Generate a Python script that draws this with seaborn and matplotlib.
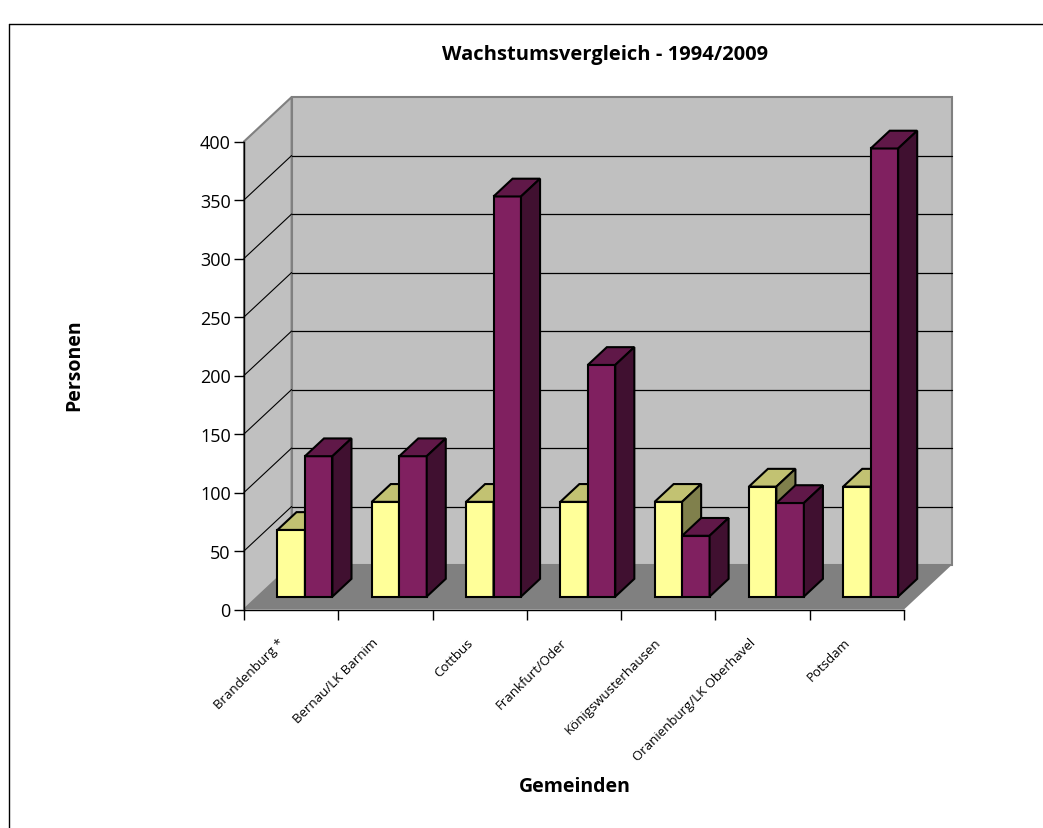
import numpy as np
import pandas as pd
import matplotlib as mpl
mpl.use('Agg')
import matplotlib.pyplot as plt
import seaborn as sns
from matplotlib.patches import Polygon
from matplotlib.lines import Line2D
from matplotlib.transforms import ScaledTranslation

# data
gemeinden = ['Brandenburg *', 'Bernau/LK Barnim', 'Cottbus', 'Frankfurt/Oder',
             'Königswusterhausen', 'Oranienburg/LK Oberhavel', 'Potsdam']
werte_1994 = [57, 81, 81, 81, 81, 94, 94]
werte_2009 = [120, 120, 342, 198, 52, 80, 383]
y_ticks = [0, 50, 100, 150, 200, 250, 300, 350, 400]

df = pd.DataFrame({
    'Gemeinde': gemeinden * 2,
    'Jahr': ['1994'] * len(gemeinden) + ['2009'] * len(gemeinden),
    'Personen': werte_1994 + werte_2009,
})

sns.set_style('white')
plt.rcParams['font.family'] = ['Open Sans', 'DejaVu Sans']
plt.rcParams['text.color'] = 'black'
plt.rcParams['axes.labelcolor'] = 'black'
plt.rcParams['xtick.color'] = 'black'
plt.rcParams['ytick.color'] = 'black'

front = {'1994': '#FFFF99', '2009': '#802060'}
top = {'1994': '#C2C272', '2009': '#601848'}
side = {'1994': '#80804C', '2009': '#401030'}

W, H = 1043, 829
fig = plt.figure(figsize=(W / 100, H / 100), dpi=100)
ax = fig.add_axes([244 / W, 1 - 610.5 / H, 660 / W, 468 / H])
ax.patch.set_visible(False)

# 3d depth in data units
DX, DY = 0.505, 38.0
Z0, DZ = 0.29, 0.40
n = len(gemeinden)
x0, x1 = -0.5, n - 0.5
ymax = 400

# walls and floor
wall_kw = dict(facecolor='#C0C0C0', edgecolor='#808080', lw=1.5, clip_on=False, zorder=0.5)
ax.add_patch(Polygon([(x0 + DX, DY), (x1 + DX, DY), (x1 + DX, ymax + DY), (x0 + DX, ymax + DY)], closed=True, **wall_kw))
ax.add_patch(Polygon([(x0, 0), (x0 + DX, DY), (x0 + DX, ymax + DY), (x0, ymax)], closed=True, **wall_kw))
ax.add_patch(Polygon([(x0, 0), (x1, 0), (x1 + DX, DY), (x0 + DX, DY)], closed=True,
                     facecolor='#808080', edgecolor='none', clip_on=False, zorder=0.6))
for v in y_ticks[1:-1]:
    ax.plot([x0 + DX, x1 + DX], [v + DY, v + DY], color='black', lw=0.9, zorder=0.8, clip_on=False)
    ax.plot([x0, x0 + DX], [v, v + DY], color='black', lw=0.8, zorder=0.8, clip_on=False)

sns.barplot(data=df, x='Gemeinde', y='Personen', hue='Jahr', hue_order=['1994', '2009'],
            palette=front, saturation=1, width=0.583, errorbar=None, edgecolor='black',
            linewidth=1.5, legend=False, ax=ax)

ox, oy = Z0 * DX, Z0 * DY
bx, by = DZ * DX, DZ * DY
for k, (jahr, cont) in enumerate(zip(['1994', '2009'], ax.containers)):
    for p in cont:
        xs = p.get_x() + ox
        w = p.get_width()
        h = p.get_height()
        p.set_x(xs)
        p.set_y(oy)
        p.set_zorder(3 + k)
        p.set_joinstyle('miter')
        yt = oy + h
        ax.add_patch(Polygon([(xs, yt), (xs + w, yt), (xs + w + bx, yt + by), (xs + bx, yt + by)],
                             closed=True, facecolor=top[jahr], edgecolor='black', lw=1.5,
                             joinstyle='miter', clip_on=False, zorder=3 + k))
        ax.add_patch(Polygon([(xs + w, oy), (xs + w + bx, oy + by), (xs + w + bx, yt + by), (xs + w, yt)],
                             closed=True, facecolor=side[jahr], edgecolor='black', lw=1.5,
                             joinstyle='miter', clip_on=False, zorder=3 + k))

ax.set_xlim(x0, x1)
ax.set_ylim(0, ymax)
ax.set_yticks(y_ticks)
ax.set_yticklabels([str(v) for v in y_ticks], fontsize=13)
ax.tick_params(axis='y', direction='out', length=7.5, width=1, color='black', pad=2, left=True)

ax.set_xticks(np.arange(n + 1) - 0.5)
ax.set_xticklabels([])
ax.set_xticks(np.arange(n), minor=True)
ax.set_xticklabels(gemeinden, minor=True, rotation=45, ha='right', va='center',
                   rotation_mode='anchor', fontsize=9.5)
ax.tick_params(axis='x', which='major', direction='out', length=7.5, width=1, color='black', bottom=True)
ax.tick_params(axis='x', which='minor', length=0, pad=22)
for lbl in ax.get_xticklabels(minor=True):
    lbl.set_transform(lbl.get_transform() + ScaledTranslation(-9 / 100, 0, fig.dpi_scale_trans))

sns.despine(ax=ax, top=True, right=True)
for s in ['left', 'bottom']:
    ax.spines[s].set_color('black')
    ax.spines[s].set_linewidth(1)

ax.set_xlabel('Gemeinden', fontsize=14, fontweight='bold', va='center')
ax.set_ylabel('Personen', fontsize=14, fontweight='bold', va='center')
ax.xaxis.set_label_coords((575 - 244) / 660, -(787 - 610.5) / 468)
ax.yaxis.set_label_coords((74 - 244) / 660, (610.5 - 365) / 468)

fig.text(605 / W, 1 - 55 / H, 'Wachstumsvergleich - 1994/2009', ha='center', va='center',
         fontsize=14.5, fontweight='bold')

fig.add_artist(Line2D([9 / W, 9 / W], [0, 1 - 25 / H], transform=fig.transFigure, color='black', lw=1))
fig.add_artist(Line2D([9 / W, 1], [1 - 25 / H, 1 - 25 / H], transform=fig.transFigure, color='black', lw=1))

fig.savefig('out.png', dpi=100)
